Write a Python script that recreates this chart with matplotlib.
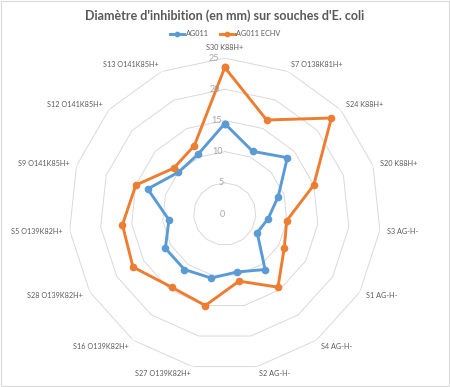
import numpy as np
import matplotlib
matplotlib.use('Agg')
import matplotlib.pyplot as plt
from matplotlib.patches import Rectangle

plt.rcParams['font.family'] = ['Lato', 'DejaVu Sans']

# Données
categories = ['S30 K88H+', 'S7 O138K81H+', 'S24 K88H+', 'S20 K88H+', 'S3 AG-H-',
              'S1 AG-H-', 'S4 AG-H-', 'S2 AG-H-', 'S27 O139K82H+', 'S16 O139K82H+',
              'S28 O139K82H+', 'S5 O139K82H+', 'S9 O141K85H+', 'S12 O141K85H+',
              'S13 O141K85H+']
ag011 = [14.5, 11, 13.5, 9, 7, 6, 11, 9.5, 10.5, 11, 11, 9, 13, 10, 10.5]
ag011_echv = [23.5, 16.5, 23, 15, 10, 11, 14.5, 11, 15, 14.5, 17, 16.5, 15, 11, 12]
levels = [0, 5, 10, 15, 20, 25]

n = len(categories)
angles = np.arange(n) * 2 * np.pi / n
angles_c = np.append(angles, angles[0])

fig = plt.figure(figsize=(4.5, 3.87), dpi=100)
fig.patches.append(Rectangle((0.002, 0.003), 0.995, 0.994, transform=fig.transFigure,
                             fill=False, edgecolor='#d9d9d9', linewidth=0.8))

ax = fig.add_axes([0.153, 0.044, 0.693, 0.806], projection='polar')
ax.set_theta_zero_location('N')
ax.set_theta_direction(-1)
ax.set_ylim(0, 25)
ax.grid(False)
ax.spines['polar'].set_visible(False)
ax.set_xticks([])
ax.set_yticks([])

# grille polygonale
for lv in levels[1:]:
    ax.plot(angles_c, [lv] * (n + 1), color='#d9d9d9', linewidth=0.7, zorder=1)

# séries
ax.plot(angles_c, np.append(ag011, ag011[0]), color='#5B9BD5', linewidth=2.1,
        marker='o', markersize=4.5, label='AG011', zorder=3)
ax.plot(angles_c, np.append(ag011_echv, ag011_echv[0]), color='#ED7D31', linewidth=2.1,
        marker='o', markersize=4.5, label='AG011 ECHV', zorder=3)

# étiquettes de l'axe radial
for lv in levels:
    ax.text(np.deg2rad(-2.2) if lv > 0 else 0, lv, str(lv), ha='right', va='center',
            fontsize=6.5, color='#a6a6a6')

# étiquettes des catégories
for a, lab in zip(angles, categories):
    deg = np.rad2deg(a)
    va = 'center'
    if deg < 1:
        ha, va = 'center', 'bottom'
    elif deg < 180:
        ha = 'left'
    else:
        ha = 'right'
    ax.text(a, 26.2, lab, ha=ha, va=va, fontsize=5.2, color='#595959')

fig.text(0.5, 0.96, "Diamètre d'inhibition (en mm) sur souches d'E. coli",
         ha='center', va='center', fontsize=9, fontweight='bold', color='#595959')
fig.legend(loc='center', bbox_to_anchor=(0.5, 0.913), ncol=2, frameon=False,
           fontsize=5.2, labelcolor='#595959', handlelength=2.0, columnspacing=1.6,
           handletextpad=0.2, markerscale=0.7)

fig.savefig('out.png', dpi=100)
